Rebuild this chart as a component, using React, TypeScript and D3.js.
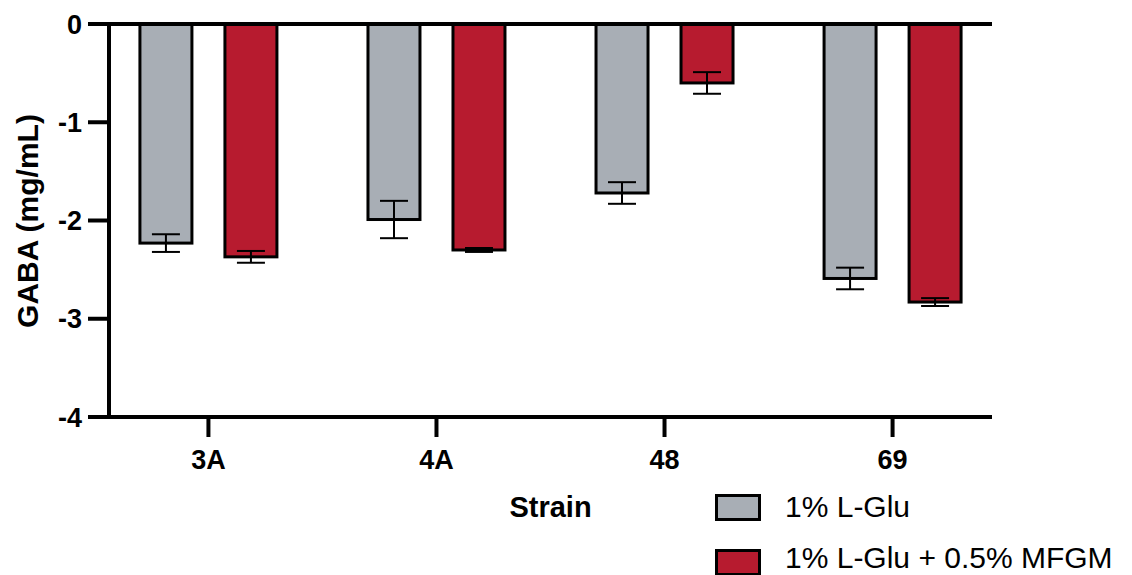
import React, { useEffect, useRef } from 'react'
import * as d3 from 'd3'

const strains = ['3A', '4A', '48', '69']
const series = ['1% L-Glu', '1% L-Glu + 0.5% MFGM']
const gluMeans = [-2.23, -1.99, -1.72, -2.59]
const gluSD = [0.09, 0.19, 0.11, 0.11]
const mfgmMeans = [-2.37, -2.30, -0.60, -2.83]
const mfgmSD = [0.06, 0.02, 0.11, 0.04]
const yTicks = [0, -1, -2, -3, -4]
const colors = ['#a8aeb5', '#b71b2f']

function App() {
  const ref = useRef<SVGSVGElement>(null)

  useEffect(() => {
    const svg = d3.select(ref.current)
    svg.selectAll('*').remove()

    const font = 'Liberation Sans, Arial, Helvetica, sans-serif'
    const left = 109
    const right = 992
    const top = 24
    const bottom = 417

    let x = d3.scalePoint().domain(strains).range([left, right]).padding(0.436)
    let xSub = d3.scaleBand().domain(series).range([-70, 70]).paddingInner(0.353)
    let y = d3.scaleLinear().domain([-4, 0]).range([bottom, top])

    const rows = strains.flatMap((s, i) => [
      { strain: s, key: series[0], mean: gluMeans[i], sd: gluSD[i], color: colors[0] },
      { strain: s, key: series[1], mean: mfgmMeans[i], sd: mfgmSD[i], color: colors[1] },
    ])

    // bars
    svg.selectAll('rect.bar')
      .data(rows)
      .enter()
      .append('rect')
      .attr('class', 'bar')
      .attr('x', d => x(d.strain)! + xSub(d.key)! + 1.5)
      .attr('width', xSub.bandwidth() - 3)
      .attr('y', y(0))
      .attr('height', d => y(d.mean) - y(0))
      .attr('fill', d => d.color)
      .attr('stroke', '#000')
      .attr('stroke-width', 3)

    // error bars
    const err = svg.selectAll('g.err')
      .data(rows)
      .enter()
      .append('g')
      .attr('class', 'err')
      .attr('transform', d => `translate(${x(d.strain)! + xSub(d.key)! + xSub.bandwidth() / 2},0)`)
      .attr('stroke', '#000')
      .attr('stroke-width', 2)

    err.append('line')
      .attr('y1', d => y(d.mean + d.sd))
      .attr('y2', d => y(d.mean - d.sd))
    err.append('line')
      .attr('x1', -14).attr('x2', 14)
      .attr('y1', d => y(d.mean + d.sd)).attr('y2', d => y(d.mean + d.sd))
    err.append('line')
      .attr('x1', -14).attr('x2', 14)
      .attr('y1', d => y(d.mean - d.sd)).attr('y2', d => y(d.mean - d.sd))

    // axes
    const axes = svg.append('g').attr('stroke', '#000').attr('stroke-width', 4)
    axes.append('line').attr('x1', left - 21).attr('x2', right).attr('y1', y(0)).attr('y2', y(0))
    axes.append('line').attr('x1', left - 21).attr('x2', right).attr('y1', y(-4)).attr('y2', y(-4))
    axes.append('line').attr('x1', left).attr('x2', left).attr('y1', y(0)).attr('y2', y(-4))
    axes.selectAll('line.yt')
      .data(yTicks)
      .enter()
      .append('line')
      .attr('class', 'yt')
      .attr('x1', left - 21).attr('x2', left)
      .attr('y1', d => y(d)).attr('y2', d => y(d))
    axes.selectAll('line.xt')
      .data(strains)
      .enter()
      .append('line')
      .attr('class', 'xt')
      .attr('x1', d => x(d)!).attr('x2', d => x(d)!)
      .attr('y1', y(-4)).attr('y2', y(-4) + 20)

    svg.selectAll('text.yl')
      .data(yTicks)
      .enter()
      .append('text')
      .attr('class', 'yl')
      .attr('x', 82)
      .attr('y', d => y(d))
      .attr('dy', '0.36em')
      .attr('text-anchor', 'end')
      .attr('font-family', font)
      .attr('font-weight', 'bold')
      .attr('font-size', 27)
      .text(d => (d === 0 ? '0' : '-' + Math.abs(d)))

    svg.selectAll('text.xl')
      .data(strains)
      .enter()
      .append('text')
      .attr('class', 'xl')
      .attr('x', d => x(d)!)
      .attr('y', 469)
      .attr('text-anchor', 'middle')
      .attr('font-family', font)
      .attr('font-weight', 'bold')
      .attr('font-size', 27)
      .text(d => d)

    svg.append('text')
      .attr('transform', 'translate(38,221) rotate(-90)')
      .attr('text-anchor', 'middle')
      .attr('font-family', font)
      .attr('font-weight', 'bold')
      .attr('font-size', 30)
      .text('GABA (mg/mL)')

    svg.append('text')
      .attr('x', (left + right) / 2)
      .attr('y', 517)
      .attr('text-anchor', 'middle')
      .attr('font-family', font)
      .attr('font-weight', 'bold')
      .attr('font-size', 29)
      .text('Strain')

    // legend
    svg.selectAll('rect.legend')
      .data(series)
      .enter()
      .append('rect')
      .attr('class', 'legend')
      .attr('x', 716.5)
      .attr('y', (d, i) => 495.5 + i * 55)
      .attr('width', 43)
      .attr('height', 24)
      .attr('fill', (d, i) => colors[i])
      .attr('stroke', '#000')
      .attr('stroke-width', 3)
    svg.selectAll('text.legend')
      .data(series)
      .enter()
      .append('text')
      .attr('class', 'legend')
      .attr('x', 785)
      .attr('y', (d, i) => 517 + i * 51)
      .attr('font-family', font)
      .attr('font-size', 30)
      .text(d => d)
  }, [])

  return (
    <svg ref={ref} width={1132} height={575}
      style={{ position: 'absolute', left: 0, top: 0, background: '#fff' }}></svg>
  )
}

export default App
